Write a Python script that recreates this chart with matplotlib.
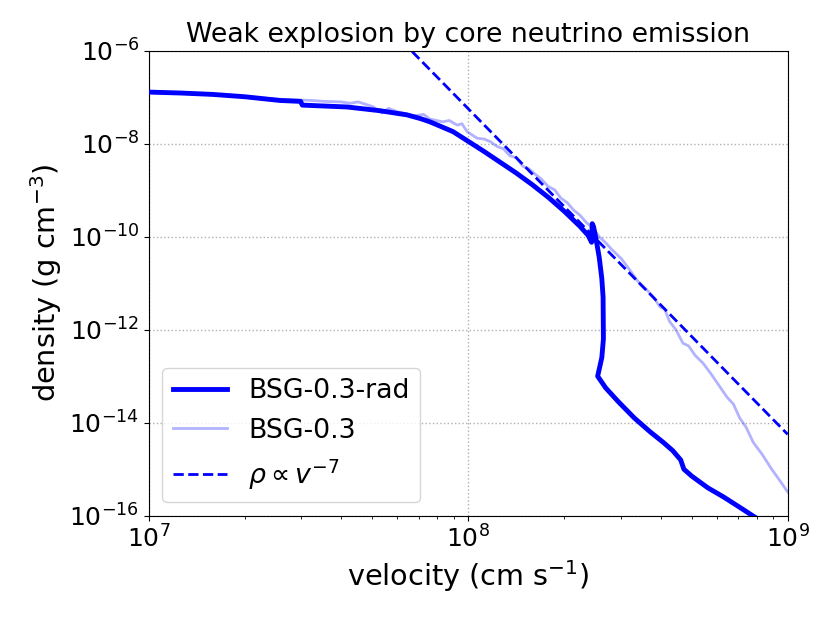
import numpy as np
import matplotlib
matplotlib.use("Agg")
import matplotlib.pyplot as plt
from matplotlib.ticker import NullLocator

# BSG-0.3-rad (log10 v, log10 rho)
rad_logv = [7.0, 7.1, 7.2, 7.3, 7.41, 7.475, 7.48, 7.55, 7.62, 7.723, 7.808, 7.85, 7.88,
            7.952, 8.0, 8.05, 8.1, 8.15, 8.2, 8.25, 8.3, 8.35, 8.375, 8.383, 8.386,
            8.388, 8.392, 8.40, 8.41, 8.418, 8.422, 8.423, 8.418, 8.405, 8.43, 8.47,
            8.52, 8.57, 8.61, 8.64, 8.665, 8.675, 8.70, 8.75, 8.80, 8.85, 8.895]
rad_logrho = [-6.89, -6.91, -6.94, -6.99, -7.07, -7.09, -7.17, -7.19, -7.21, -7.29, -7.38,
              -7.46, -7.53, -7.74, -7.95, -8.17, -8.40, -8.63, -8.88, -9.15, -9.45, -9.78,
              -9.97, -10.08, -10.12, -9.72, -9.78, -10.05, -10.45, -10.9, -11.3, -12.2,
              -12.6, -13.0, -13.25, -13.55, -13.9, -14.2, -14.42, -14.6, -14.8, -15.0,
              -15.15, -15.4, -15.6, -15.82, -16.02]

# BSG-0.3 (log10 v, log10 rho)
bsg_logv = [7.0, 7.1, 7.2, 7.3, 7.4, 7.51, 7.55, 7.6, 7.63, 7.655, 7.70, 7.73, 7.75, 7.777,
            7.83, 7.86, 7.88, 7.92, 7.94, 7.965, 7.98, 7.996, 8.027, 8.05, 8.07, 8.09, 8.11,
            8.13, 8.15, 8.17, 8.19, 8.21, 8.23, 8.25, 8.27, 8.29, 8.31, 8.33, 8.35, 8.37,
            8.39, 8.41, 8.43, 8.45, 8.48, 8.506, 8.53, 8.56, 8.58, 8.60, 8.615, 8.63, 8.65,
            8.672, 8.69, 8.71, 8.735, 8.76, 8.79, 8.81, 8.83, 8.85, 8.87, 8.892, 8.92,
            8.95, 8.975, 9.0]
bsg_logrho = [-6.89, -6.91, -6.94, -6.99, -7.04, -7.07, -7.09, -7.10, -7.13, -7.10, -7.20,
              -7.34, -7.24, -7.31, -7.40, -7.37, -7.47, -7.53, -7.50, -7.60, -7.57, -7.74,
              -7.88, -7.90, -7.96, -8.06, -8.11, -8.26, -8.30, -8.48, -8.54, -8.66, -8.77,
              -8.92, -8.99, -9.17, -9.27, -9.43, -9.54, -9.70, -9.81, -10.0, -10.13, -10.28,
              -10.48, -10.72, -10.95, -11.15, -11.3, -11.51, -11.56, -11.82, -12.0, -12.29,
              -12.35, -12.55, -12.72, -12.95, -13.25, -13.45, -13.6, -13.9, -14.1, -14.42,
              -14.68, -15.0, -15.24, -15.49]

# power law rho = A v^-7
fit_logA = 48.75
fit_index = -7.0
fit_v = [1e7, 1e9]

plt.rcParams['font.size'] = 18
fig = plt.figure(figsize=(8.30, 6.23), dpi=100)
ax = fig.add_axes([0.1795, 0.1722, 0.949 - 0.1795, 0.9186 - 0.1722])

ax.plot(10 ** np.array(rad_logv), 10 ** np.array(rad_logrho), color='blue', lw=3.5,
        label='BSG-0.3-rad', zorder=3)
ax.plot(10 ** np.array(bsg_logv), 10 ** np.array(bsg_logrho), color='blue', lw=2,
        alpha=0.3, label='BSG-0.3', zorder=2)
fv = np.array(fit_v)
ax.plot(fv, 10 ** fit_logA * fv ** fit_index, color='blue', lw=2, ls='--',
        label=r'$\rho \propto v^{-7}$', zorder=2)

ax.set_xscale('log')
ax.set_yscale('log')
ax.set_xlim(1e7, 1e9)
ax.set_ylim(1e-16, 1e-6)
ax.set_yticks([1e-16, 1e-14, 1e-12, 1e-10, 1e-8, 1e-6])
ax.yaxis.set_minor_locator(NullLocator())
ax.grid(True, which='major', ls=':', color='#b0b0b0', lw=1)
ax.set_xlabel(r'velocity (cm s$^{-1}$)', fontsize=20.7)
ax.set_ylabel(r'density (g cm$^{-3}$)', fontsize=20.7)
ax.set_title('Weak explosion by core neutrino emission', fontsize=19.3)
ax.legend(loc='lower left', fontsize=19.3)
fig.savefig('out.png', dpi=100)
